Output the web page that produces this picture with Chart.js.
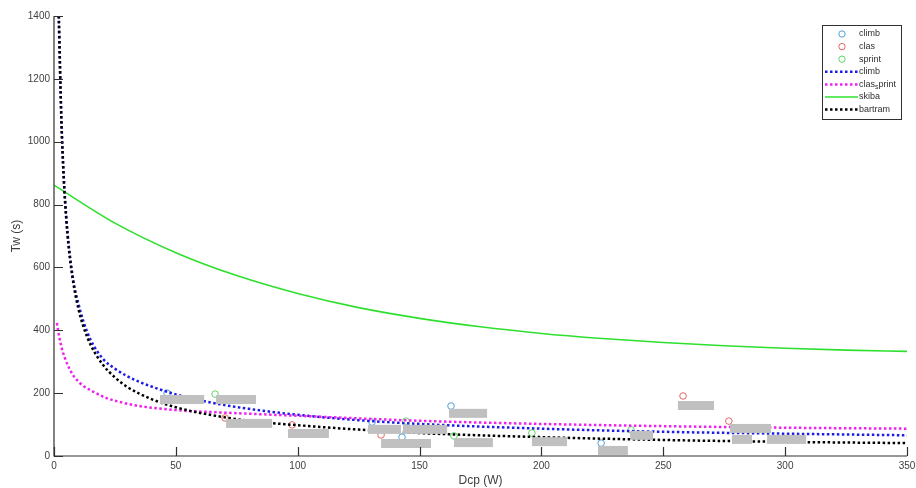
<!DOCTYPE html>
<html>
<head>
<meta charset="utf-8">
<script src="https://cdn.jsdelivr.net/npm/chart.js@4"></script>
<style>
  html, body { margin: 0; padding: 0; background: #fff; }
  #c { display: block; }
</style>
</head>
<body>
<canvas id="c" width="916" height="488"></canvas>
<script>
// ---- Data ----
const xTicks = [0, 50, 100, 150, 200, 250, 300, 350];
const yTicks = [0, 200, 400, 600, 800, 1000, 1200, 1400];

// measured points
const climbX = [46.4, 130.5, 142.8, 162.9, 224.5];
const climbY = [200, 108, 60, 159, 41];
const clasX = [70.2, 97.7, 134.2, 258.1, 276.9];
const clasY = [121, 99, 67, 191, 111];
const sprintX = [66.1, 144.4, 164.1, 196.1, 236.8];
const sprintY = [197, 111, 64, 73, 83];

// fitted curves
const climbFitX = [1.9, 3, 4, 5, 6, 8, 10, 12, 15, 20, 25, 30, 35, 40, 50, 60, 70, 80, 100, 125, 150, 200, 250, 300, 350];
const climbFitY = [1400, 1080, 890, 765, 675, 555, 485, 430, 370, 310, 278, 254, 236, 221, 196, 177, 162, 150, 131, 114, 102, 87, 77, 71, 66];
const clasSprintX = [1.2, 2, 3.2, 4.5, 6, 8, 10.4, 12, 16, 21.6, 28, 35, 50, 70, 100, 150, 200, 250, 300, 350];
const clasSprintY = [423, 385, 343, 311, 283, 255, 234, 223, 205, 184, 170, 159, 146, 138, 128, 112, 102, 95, 90, 87];
const skibaX = [0, 25, 50, 75, 100, 125, 150, 175, 200, 225, 250, 275, 300, 325, 350];
const skibaY = [862, 741, 647, 574, 517, 472, 438, 411, 390, 374, 361, 351, 343, 337, 333];
const bartramX = [2, 3, 4, 5, 6, 8, 10, 12, 15, 20, 25, 30, 40, 50, 60, 80, 100, 125, 150, 200, 250, 300, 350];
const bartramY = [1400, 1074, 881, 756, 666, 547, 469, 413, 354, 291, 250, 220, 181, 155, 137, 112, 98, 84, 73, 60, 51, 45, 41];

// redacted (grey) text labels, anchored in data units
const labelBoxX0 = [43.5, 66.5, 70.6, 96.0, 128.8, 143.2, 134.2, 162.1, 164.1, 196.1, 236.4, 223.2, 256.0, 277.4, 278.2, 292.6];
const labelBoxX1 = [61.6, 82.9, 89.5, 112.8, 142.4, 161.3, 154.7, 177.7, 180.1, 210.5, 245.8, 235.5, 270.8, 294.2, 286.4, 308.6];
const labelBoxY  = [194, 194, 118, 86, 99, 99, 54, 150, 57, 60, 80, 32, 175, 102, 67, 67];

const zip = (xs, ys) => xs.map((x, i) => ({ x: x, y: ys[i] }));

const FONT = '"Liberation Sans", Arial, Helvetica, sans-serif';
const DOTS = [2.5, 2.5];

const markerDs = (label, xs, ys, color, order) => ({
  label, data: zip(xs, ys), showLine: false,
  pointStyle: 'circle', pointRadius: 3.3, pointBorderWidth: 1,
  pointBorderColor: color, pointBackgroundColor: 'rgba(0,0,0,0)',
  borderColor: color, backgroundColor: 'rgba(0,0,0,0)', order, _marker: true
});
const lineDs = (label, xs, ys, color, width, dash, order) => ({
  label, data: zip(xs, ys), showLine: true, pointRadius: 0,
  borderColor: color, backgroundColor: color, borderWidth: width,
  borderDash: dash, cubicInterpolationMode: 'monotone', fill: false, order
});

const matlabPlugin = {
  id: 'matlabAxes',
  afterDatasetsDraw(chart) {
    const { ctx, scales: { x, y } } = chart;
    ctx.save();
    ctx.fillStyle = '#c0c0c0';
    for (let i = 0; i < labelBoxX0.length; i++) {
      const px0 = x.getPixelForValue(labelBoxX0[i]);
      const px1 = x.getPixelForValue(labelBoxX1[i]);
      const py = y.getPixelForValue(labelBoxY[i]);
      ctx.fillRect(px0, py, px1 - px0, 9);
    }
    ctx.restore();
  },
  afterDraw(chart) {
    const { ctx, chartArea: a, scales: { x, y } } = chart;
    ctx.save();
    // axes lines
    ctx.strokeStyle = '#303030';
    ctx.lineWidth = 1.2;
    ctx.beginPath();
    ctx.moveTo(a.left, a.top);
    ctx.lineTo(a.left, a.bottom);
    ctx.lineTo(a.right, a.bottom);
    ctx.stroke();
    // inward ticks
    ctx.beginPath();
    xTicks.forEach(v => {
      const px = Math.round(x.getPixelForValue(v)) + 0.5;
      ctx.moveTo(px, a.bottom); ctx.lineTo(px, a.bottom - 9);
    });
    yTicks.forEach(v => {
      const py = Math.round(y.getPixelForValue(v)) + 0.5;
      ctx.moveTo(a.left, py); ctx.lineTo(a.left + 9, py);
    });
    ctx.stroke();
    // tick labels
    ctx.fillStyle = '#404040';
    ctx.font = '10px ' + FONT;
    ctx.textAlign = 'center'; ctx.textBaseline = 'top';
    xTicks.forEach(v => ctx.fillText(String(v), x.getPixelForValue(v), a.bottom + 5));
    ctx.textAlign = 'right'; ctx.textBaseline = 'middle';
    yTicks.forEach(v => ctx.fillText(String(v), a.left - 4, y.getPixelForValue(v)));
    // axis titles
    ctx.font = '12px ' + FONT;
    ctx.textAlign = 'center'; ctx.textBaseline = 'middle';
    ctx.fillText('Dcp (W)', (a.left + a.right) / 2, a.bottom + 25);
    ctx.save();
    ctx.translate(17, (a.top + a.bottom) / 2);
    ctx.rotate(-Math.PI / 2);
    ctx.fillText('Tw (s)', 0, 0);
    ctx.restore();

    // legend
    const bx = 822, by = 25, bw = 79, bh = 94;
    ctx.fillStyle = '#fff';
    ctx.fillRect(bx, by, bw, bh);
    ctx.strokeStyle = '#303030';
    ctx.lineWidth = 1;
    ctx.strokeRect(bx + 0.5, by + 0.5, bw, bh);
    const dsets = chart.data.datasets;
    dsets.forEach((ds, i) => {
      const ry = by + 9 + i * 12.6;
      if (ds._marker) {
        ctx.beginPath();
        ctx.strokeStyle = ds.pointBorderColor;
        ctx.lineWidth = 1;
        ctx.arc(bx + 20, ry, 3.2, 0, Math.PI * 2);
        ctx.stroke();
      } else {
        ctx.beginPath();
        ctx.strokeStyle = ds.borderColor;
        ctx.lineWidth = ds.borderWidth;
        ctx.setLineDash(ds.borderDash || []);
        ctx.moveTo(bx + 3, ry); ctx.lineTo(bx + 36, ry);
        ctx.stroke();
        ctx.setLineDash([]);
      }
      ctx.fillStyle = '#303030';
      ctx.textAlign = 'left'; ctx.textBaseline = 'middle';
      let tx = bx + 37;
      const parts = ds.label.split('_');
      ctx.font = '9px ' + FONT;
      ctx.fillText(parts[0], tx, ry);
      tx += ctx.measureText(parts[0]).width;
      if (parts.length > 1) {
        const sub = parts[1].charAt(0), rest = parts[1].slice(1);
        ctx.font = '7px ' + FONT;
        ctx.fillText(sub, tx, ry + 3);
        tx += ctx.measureText(sub).width;
        ctx.font = '9px ' + FONT;
        ctx.fillText(rest, tx, ry);
      }
    });
    ctx.restore();
  }
};

new Chart(document.getElementById('c'), {
  type: 'scatter',
  data: {
    datasets: [
      markerDs('climb', climbX, climbY, '#4f9fd6', 10),
      markerDs('clas', clasX, clasY, '#e46464', 9),
      markerDs('sprint', sprintX, sprintY, '#5fd85f', 8),
      lineDs('climb', climbFitX, climbFitY, '#1c1ce6', 2.5, DOTS, 4),
      lineDs('clas_sprint', clasSprintX, clasSprintY, '#f020f0', 2.5, DOTS, 3),
      lineDs('skiba', skibaX, skibaY, '#2ee02e', 1.6, [], 2),
      lineDs('bartram', bartramX, bartramY, '#000000', 2.5, DOTS, 1)
    ]
  },
  options: {
    responsive: false,
    devicePixelRatio: 1,
    animation: false,
    layout: { padding: { left: 54, right: 9, top: 16, bottom: 32 } },
    plugins: { legend: { display: false }, tooltip: { enabled: false } },
    scales: {
      x: { type: 'linear', min: 0, max: 350, display: false },
      y: { type: 'linear', min: 0, max: 1400, display: false }
    }
  },
  plugins: [matlabPlugin]
});
</script>
</body>
</html>
